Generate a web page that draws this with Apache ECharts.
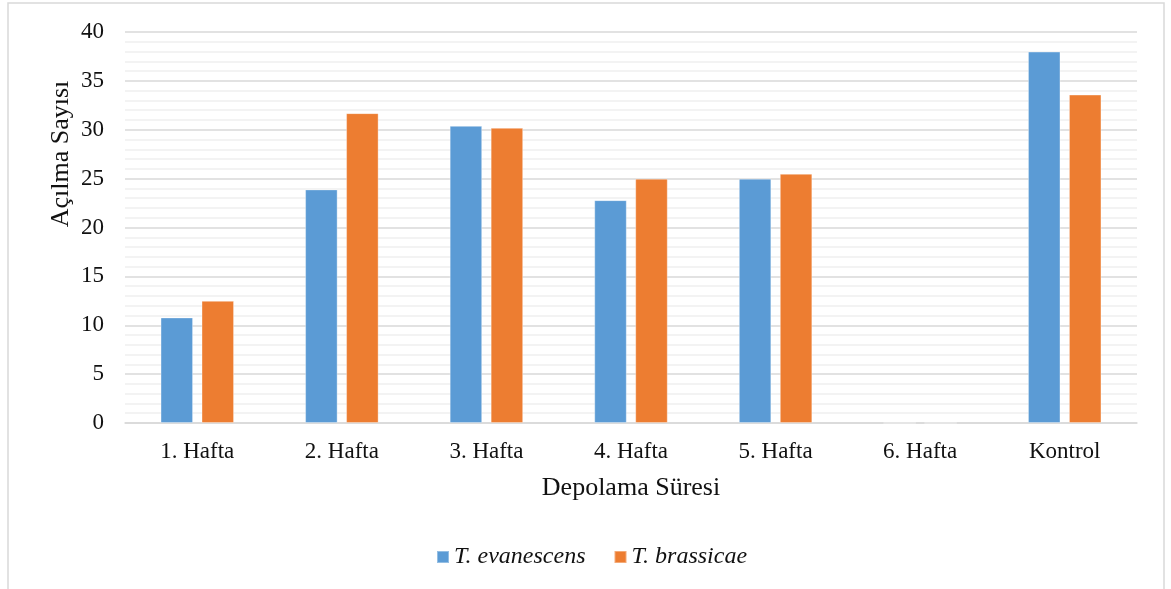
<!DOCTYPE html>
<html>
<head>
<meta charset="utf-8">
<script src="https://cdn.jsdelivr.net/npm/echarts@6/dist/echarts.min.js"></script>
<style>
  html, body { margin: 0; padding: 0; background: #fff; }
  #chart { width: 1171px; height: 589px; }
</style>
</head>
<body>
<div id="chart"></div>
<script>
// Storage period categories
const categories = ['1. Hafta', '2. Hafta', '3. Hafta', '4. Hafta', '5. Hafta', '6. Hafta', 'Kontrol'];
// Emergence counts per species
const evanescens = [10.8, 23.9, 30.4, 22.8, 25.0, 0, 38.0];
const brassicae = [12.5, 31.7, 30.2, 25.0, 25.5, 0, 33.6];
const seriesNames = ['T. evanescens', 'T. brassicae'];
const xTitle = 'Depolama Süresi';
const yTitle = 'Açılma Sayısı';

const serif = "'Liberation Serif', 'Times New Roman', serif";
const chart = echarts.init(document.getElementById('chart'));

chart.setOption({
  animation: false,
  backgroundColor: '#fff',
  grid: { left: 125, right: 34, top: 32, bottom: 166, containLabel: false },
  legend: {
    left: 436,
    top: 545,
    padding: 0,
    itemWidth: 12,
    itemHeight: 12,
    itemGap: 28,
    icon: 'rect',
    textStyle: { fontFamily: serif, fontSize: 24, fontStyle: 'italic', color: '#111' },
    data: seriesNames
  },
  xAxis: {
    type: 'category',
    data: categories,
    name: xTitle,
    nameLocation: 'middle',
    nameGap: 52,
    nameTextStyle: { fontFamily: serif, fontSize: 26, color: '#111' },
    axisLine: { lineStyle: { color: '#d9d9d9', width: 1.5 } },
    axisTick: { show: false },
    axisLabel: { fontFamily: serif, fontSize: 23, color: '#111', margin: 17 }
  },
  yAxis: {
    type: 'value',
    min: 0,
    max: 40,
    interval: 5,
    axisLine: { show: false },
    axisTick: { show: false },
    axisLabel: { fontFamily: serif, fontSize: 23, color: '#111', margin: 21 },
    splitLine: { lineStyle: { color: '#d9d9d9', width: 1.5 } },
    minorTick: { show: false, splitNumber: 5 },
    minorSplitLine: { show: true, lineStyle: { color: '#f0f0f0', width: 1.5 } }
  },
  series: [
    {
      name: seriesNames[0],
      type: 'bar',
      data: evanescens,
      barWidth: '22.5%',
      barGap: '26%',
      itemStyle: { color: '#5B9BD5', borderColor: 'rgba(255,255,255,0.35)', borderWidth: 1 }
    },
    {
      name: seriesNames[1],
      type: 'bar',
      data: brassicae,
      barWidth: '22.5%',
      barGap: '26%',
      itemStyle: { color: '#ED7D31', borderColor: 'rgba(255,255,255,0.35)', borderWidth: 1 }
    }
  ],
  graphic: [
    {
      type: 'rect',
      silent: true,
      shape: { x: 8, y: 3, width: 1156, height: 600 },
      style: { fill: 'none', stroke: '#d9d9d9', lineWidth: 1.5 }
    },
    {
      type: 'text',
      x: 61,
      y: 154,
      rotation: Math.PI / 2,
      style: {
        text: yTitle,
        font: "26px 'Liberation Serif', 'Times New Roman', serif",
        fill: '#111',
        align: 'center',
        verticalAlign: 'middle'
      }
    }
  ]
});
</script>
</body>
</html>
